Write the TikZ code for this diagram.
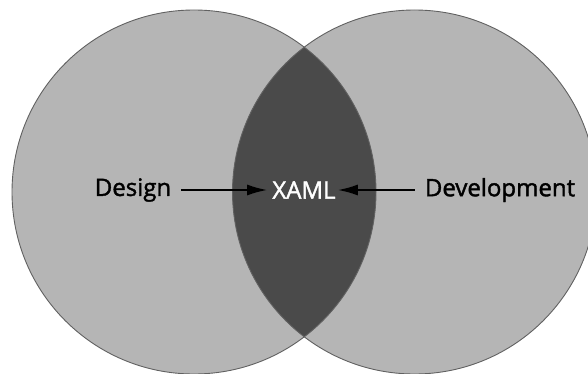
\documentclass[tikz,border=0pt]{standalone}
\usepackage{fontspec}
\setmainfont{Open Sans}[BoldFont={Open Sans},BoldFeatures={FakeBold=1.6}]
\usetikzlibrary{arrows.meta,positioning}

\definecolor{setgray}{gray}{0.71}
\definecolor{lensgray}{gray}{0.29}
\definecolor{rimgray}{gray}{0.38}

\begin{document}
\begin{tikzpicture}[x=1pt,y=1pt,
    label/.style={font=\fontsize{24}{28}\selectfont\bfseries,inner sep=4pt},
    feed/.style={-{Latex[length=20pt,width=11pt]},line width=2pt,black}]

    \useasboundingbox (0,0) rectangle (588,373);

    % the two sets
    \fill[setgray] (194,181) circle (182);
    \fill[setgray] (414.5,181) circle (182);

    % overlap
    \begin{scope}
        \clip (194,181) circle (182);
        \fill[lensgray] (414.5,181) circle (182);
    \end{scope}

    \draw[rimgray,line width=0.9pt] (194,181) circle (182);
    \draw[rimgray,line width=0.9pt] (414.5,181) circle (182);

    % labels
    \node[label] (xaml) at (304,183) {\textcolor{white}{XAML}};
    \node[label] (design) at (133,183) {Design};
    \node[label] (devel) at (500,183) {Development};

    \draw[feed,shorten <=6pt,shorten >=1pt] (design) -- (xaml);
    \draw[feed,shorten <=6pt,shorten >=-2pt] (devel) -- (xaml);

\end{tikzpicture}
\end{document}
